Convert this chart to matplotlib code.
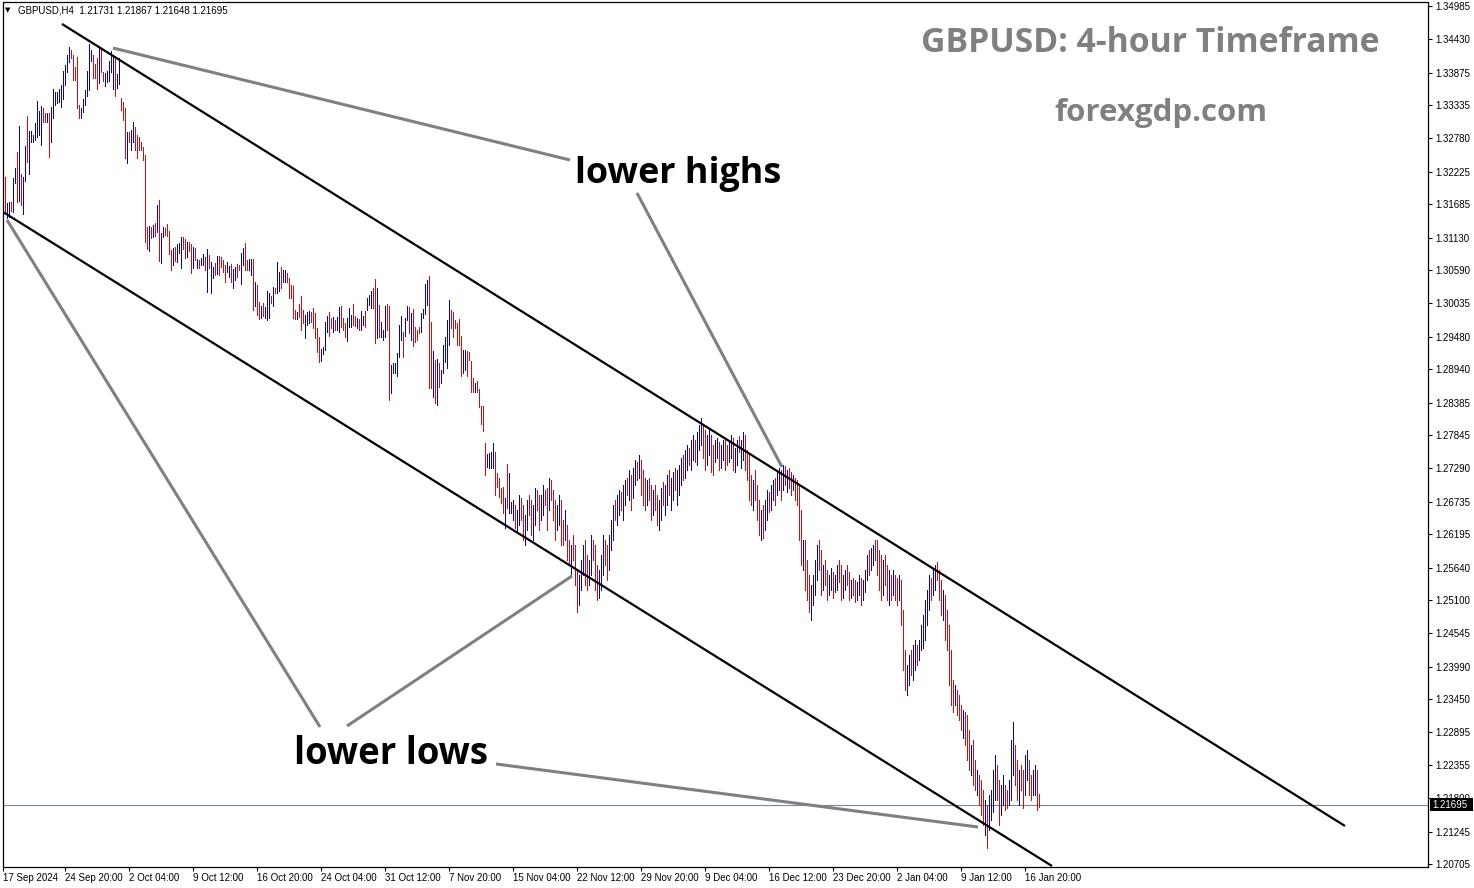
import matplotlib
matplotlib.use("Agg")
import matplotlib.pyplot as plt
import matplotlib.transforms as mtransforms
from matplotlib.patches import Rectangle

# ---------------- data ----------------
symbol_header = "GBPUSD,H4  1.21731 1.21867 1.21648 1.21695"
title_text = "GBPUSD: 4-hour Timeframe"
site_text = "forexgdp.com"
label_highs = "lower highs"
label_lows = "lower lows"
current_price = 1.21695

high = [
    1.32289, 1.32139, 1.31706, 1.31723, 1.31723, 1.32123, 1.32289, 1.32555, 1.32988, 1.32189,
    1.32139, 1.32655, 1.33154, 1.32905, 1.32905, 1.32838, 1.33038, 1.33404, 1.33238, 1.33321,
    1.33288, 1.33204, 1.33204, 1.33204, 1.33304, 1.33604, 1.33554, 1.33554, 1.33604, 1.33670,
    1.33903, 1.34003, 1.34170, 1.34303, 1.34253, 1.34170, 1.33970, 1.34136, 1.33338, 1.33288,
    1.33437, 1.33587, 1.33903, 1.34353, 1.34253, 1.34170, 1.34020, 1.34120, 1.34286, 1.34286,
    1.33887, 1.33870, 1.33903, 1.34070, 1.34236, 1.34136, 1.34136, 1.33853, 1.34120, 1.33454,
    1.33387, 1.33288, 1.32888, 1.32888, 1.32921, 1.33055, 1.32971, 1.32838, 1.32805, 1.32722,
    1.32639, 1.32505, 1.31307, 1.31324, 1.31307, 1.31340, 1.31374, 1.31673, 1.31756, 1.31207,
    1.31307, 1.31290, 1.31357, 1.31241, 1.30924, 1.30958, 1.30974, 1.31024, 1.31041, 1.31141,
    1.31141, 1.31107, 1.31057, 1.31057, 1.31024, 1.30974, 1.30958, 1.30774, 1.30758, 1.30791,
    1.30858, 1.30808, 1.30941, 1.30841, 1.30725, 1.30641, 1.30708, 1.30824, 1.30824, 1.30808,
    1.30758, 1.30675, 1.30725, 1.30658, 1.30691, 1.30608, 1.30641, 1.30691, 1.30675, 1.30874,
    1.30958, 1.31041, 1.30758, 1.30774, 1.30774, 1.30774, 1.30392, 1.30342, 1.30059, 1.29992,
    1.30042, 1.29976, 1.30242, 1.30209, 1.30159, 1.30309, 1.30292, 1.30725, 1.30558, 1.30641,
    1.30591, 1.30591, 1.30541, 1.30458, 1.30342, 1.30325, 1.29926, 1.29892, 1.30026, 1.30159,
    1.29926, 1.29843, 1.29892, 1.29909, 1.29892, 1.29959, 1.29876, 1.29626, 1.29476, 1.29277,
    1.29310, 1.29726, 1.29826, 1.29892, 1.29793, 1.29809, 1.29759, 1.29809, 1.29976, 1.29992,
    1.29793, 1.29709, 1.29793, 1.29959, 1.29843, 1.30026, 1.29826, 1.29793, 1.29776, 1.29909,
    1.29826, 1.29909, 1.30125, 1.30175, 1.30242, 1.30292, 1.30442, 1.30292, 1.30009, 1.29726,
    1.29593, 1.29992, 1.30026, 1.29992, 1.29010, 1.29044, 1.29044, 1.29210, 1.29676, 1.29826,
    1.29560, 1.29793, 1.29992, 1.29976, 1.29876, 1.29942, 1.29643, 1.29593, 1.29643, 1.29876,
    1.29942, 1.30358, 1.30425, 1.30492, 1.29726, 1.29243, 1.29094, 1.29110, 1.29044, 1.28927,
    1.29343, 1.29476, 1.29759, 1.30092, 1.29926, 1.29892, 1.29759, 1.29709, 1.29776, 1.29493,
    1.29260, 1.29260, 1.29243, 1.29227, 1.29077, 1.28794, 1.28711, 1.28744, 1.28611, 1.28328,
    1.28328, 1.27712, 1.27529, 1.27546, 1.27562, 1.27712, 1.27562, 1.27213, 1.27130, 1.26963,
    1.26980, 1.26797, 1.27363, 1.27213, 1.26730, 1.26764, 1.26681, 1.26597, 1.26847, 1.26797,
    1.26681, 1.26514, 1.26764, 1.26847, 1.26764, 1.26681, 1.26963, 1.26930, 1.26847, 1.26847,
    1.27013, 1.26930, 1.26963, 1.27130, 1.27097, 1.26930, 1.26764, 1.26681, 1.26847, 1.26764,
    1.26431, 1.26597, 1.26348, 1.26098, 1.26015, 1.26181, 1.26015, 1.25599, 1.25516, 1.25765,
    1.26015, 1.26098, 1.25848, 1.25765, 1.26181, 1.26098, 1.26015, 1.25682, 1.25599, 1.25848,
    1.26181, 1.26098, 1.26015, 1.26181, 1.26431, 1.26681, 1.26764, 1.26847, 1.26930, 1.26897,
    1.27013, 1.27097, 1.27130, 1.27263, 1.27180, 1.27296, 1.27429, 1.27396, 1.27513, 1.27429,
    1.27263, 1.27130, 1.27097, 1.27130, 1.27013, 1.26930, 1.27013, 1.26847, 1.26764, 1.26963,
    1.27063, 1.27013, 1.27180, 1.27263, 1.27130, 1.27230, 1.27296, 1.27263, 1.27346, 1.27463,
    1.27513, 1.27596, 1.27679, 1.27629, 1.27762, 1.27846, 1.27762, 1.27895, 1.28012, 1.28128,
    1.28012, 1.27929, 1.27846, 1.27962, 1.27846, 1.27679, 1.27762, 1.27796, 1.27729, 1.27679,
    1.27762, 1.27796, 1.27679, 1.27762, 1.27846, 1.27796, 1.27629, 1.27762, 1.27829, 1.27762,
    1.27895, 1.27846, 1.27596, 1.27513, 1.27180, 1.27097, 1.27263, 1.27013, 1.26764, 1.26597,
    1.26681, 1.26764, 1.26930, 1.26897, 1.27013, 1.27097, 1.27130, 1.27263, 1.27296, 1.27263,
    1.27346, 1.27330, 1.27263, 1.27296, 1.27230, 1.27180, 1.27130, 1.27097, 1.27013, 1.26597,
    1.26098, 1.26098, 1.25765, 1.25516, 1.25349, 1.25516, 1.25765, 1.26015, 1.26098, 1.25932,
    1.25682, 1.25765, 1.25599, 1.25516, 1.25632, 1.25565, 1.25516, 1.25682, 1.25765, 1.25682,
    1.25516, 1.25599, 1.25682, 1.25565, 1.25432, 1.25466, 1.25432, 1.25399, 1.25516, 1.25466,
    1.25432, 1.25599, 1.25848, 1.25932, 1.25965, 1.26015, 1.26098, 1.26098, 1.25932, 1.25848,
    1.25765, 1.25848, 1.25682, 1.25599, 1.25516, 1.25599, 1.25516, 1.25466, 1.25516, 1.25432,
    1.24933, 1.24267, 1.24018, 1.24184, 1.24267, 1.24350, 1.24434, 1.24350, 1.24434, 1.24683,
    1.24850, 1.25099, 1.25266, 1.25516, 1.25466, 1.25599, 1.25682, 1.25732, 1.25599, 1.25432,
    1.25266, 1.25183, 1.24933, 1.24683, 1.24267, 1.23768, 1.23685, 1.23602, 1.23518, 1.23352,
    1.23269, 1.23235, 1.23186, 1.22936, 1.22686, 1.22769, 1.22437, 1.22270, 1.22187, 1.22104,
    1.21937, 1.21771, 1.21688, 1.21854, 1.21937, 1.22270, 1.22520, 1.22353, 1.22104, 1.22020,
    1.22187, 1.22020, 1.21937, 1.22104, 1.22769, 1.23069, 1.22686, 1.22437, 1.22270, 1.22353,
    1.22270, 1.22520, 1.22603, 1.22437, 1.22187, 1.22270, 1.22353, 1.22270, 1.21867,
]

low = [
    1.31989, 1.31540, 1.31457, 1.31474, 1.31573, 1.31557, 1.32039, 1.31723, 1.31740, 1.31673,
    1.31523, 1.32073, 1.32389, 1.32189, 1.32722, 1.32722, 1.32755, 1.32805, 1.32838, 1.32672,
    1.33055, 1.33055, 1.33055, 1.32472, 1.32722, 1.33121, 1.33338, 1.33371, 1.33387, 1.33304,
    1.33437, 1.33670, 1.33887, 1.34053, 1.34120, 1.33754, 1.33754, 1.33288, 1.33121, 1.33121,
    1.33221, 1.33338, 1.33487, 1.33587, 1.34070, 1.33787, 1.33787, 1.33604, 1.33704, 1.33887,
    1.33737, 1.33654, 1.33720, 1.33737, 1.33887, 1.33604, 1.33487, 1.33620, 1.33687, 1.33254,
    1.33088, 1.32455, 1.32372, 1.32722, 1.32589, 1.32722, 1.32589, 1.32455, 1.32589, 1.32589,
    1.32422, 1.31057, 1.30941, 1.30908, 1.31124, 1.31141, 1.31157, 1.31224, 1.30741, 1.30708,
    1.31141, 1.31174, 1.31157, 1.30858, 1.30591, 1.30675, 1.30741, 1.30725, 1.30874, 1.30625,
    1.30941, 1.30791, 1.30808, 1.30908, 1.30541, 1.30625, 1.30758, 1.30625, 1.30625, 1.30675,
    1.30675, 1.30591, 1.30225, 1.30625, 1.30209, 1.30458, 1.30508, 1.30525, 1.30508, 1.30641,
    1.30558, 1.30392, 1.30558, 1.30475, 1.30392, 1.30292, 1.30425, 1.30475, 1.30591, 1.30358,
    1.30675, 1.30591, 1.30591, 1.30591, 1.30508, 1.29926, 1.29992, 1.29843, 1.29776, 1.29793,
    1.29826, 1.29793, 1.29759, 1.29793, 1.30042, 1.29992, 1.30209, 1.30209, 1.30242, 1.30292,
    1.30392, 1.30392, 1.30392, 1.30125, 1.30125, 1.29793, 1.29776, 1.29776, 1.29809, 1.29593,
    1.29709, 1.29460, 1.29676, 1.29709, 1.29726, 1.29626, 1.29460, 1.29227, 1.29060, 1.29077,
    1.29193, 1.29260, 1.29560, 1.29493, 1.29626, 1.29560, 1.29593, 1.29593, 1.29560, 1.29643,
    1.29593, 1.29476, 1.29410, 1.29643, 1.29643, 1.29676, 1.29659, 1.29626, 1.29593, 1.29593,
    1.29676, 1.29643, 1.29926, 1.30009, 1.29959, 1.29959, 1.29376, 1.29460, 1.29476, 1.29476,
    1.29426, 1.29476, 1.29593, 1.28428, 1.28544, 1.28877, 1.28877, 1.28827, 1.29143, 1.29426,
    1.29143, 1.29493, 1.29759, 1.29543, 1.29426, 1.29326, 1.29393, 1.29426, 1.29543, 1.29560,
    1.29793, 1.29859, 1.30009, 1.28627, 1.28627, 1.28478, 1.28378, 1.28345, 1.28644, 1.28711,
    1.28877, 1.29060, 1.28960, 1.29343, 1.29626, 1.29476, 1.29626, 1.29343, 1.29343, 1.28827,
    1.28877, 1.28927, 1.28827, 1.29094, 1.28561, 1.28561, 1.28561, 1.28561, 1.28311, 1.28028,
    1.27912, 1.27180, 1.27313, 1.27296, 1.27296, 1.27296, 1.26847, 1.26980, 1.26813, 1.26714,
    1.26547, 1.26298, 1.26630, 1.26547, 1.26547, 1.26431, 1.26298, 1.26231, 1.26348, 1.26431,
    1.26098, 1.26015, 1.26264, 1.26514, 1.26181, 1.26098, 1.26348, 1.26597, 1.26264, 1.26431,
    1.26514, 1.26681, 1.26264, 1.26597, 1.26764, 1.26431, 1.26098, 1.26264, 1.26348, 1.26015,
    1.26015, 1.26098, 1.25765, 1.25682, 1.25516, 1.25765, 1.25349, 1.24900, 1.25016, 1.25266,
    1.25516, 1.25349, 1.25266, 1.25349, 1.25516, 1.25765, 1.25266, 1.25099, 1.25133, 1.25266,
    1.25516, 1.25682, 1.25432, 1.25599, 1.25932, 1.26098, 1.26431, 1.26348, 1.26514, 1.26597,
    1.26431, 1.26681, 1.26847, 1.26764, 1.26597, 1.26797, 1.27013, 1.27097, 1.27130, 1.26847,
    1.26681, 1.26597, 1.26681, 1.26764, 1.26431, 1.26514, 1.26597, 1.26348, 1.26264, 1.26431,
    1.26681, 1.26514, 1.26681, 1.26847, 1.26597, 1.26764, 1.26930, 1.26681, 1.26847, 1.27013,
    1.27097, 1.27130, 1.27263, 1.27346, 1.27263, 1.27429, 1.27396, 1.27346, 1.27596, 1.27679,
    1.27463, 1.27263, 1.27346, 1.27513, 1.27230, 1.27180, 1.27396, 1.27463, 1.27263, 1.27296,
    1.27429, 1.27263, 1.27346, 1.27396, 1.27463, 1.27263, 1.27230, 1.27346, 1.27563, 1.27296,
    1.27429, 1.27263, 1.27097, 1.26764, 1.26681, 1.26597, 1.26764, 1.26431, 1.26181, 1.26098,
    1.26131, 1.26264, 1.26431, 1.26564, 1.26597, 1.26764, 1.26681, 1.26847, 1.26930, 1.26764,
    1.26930, 1.27013, 1.26897, 1.26963, 1.26847, 1.26930, 1.26764, 1.26681, 1.26098, 1.25682,
    1.25599, 1.25266, 1.25099, 1.24900, 1.24767, 1.25016, 1.25183, 1.25432, 1.25599, 1.25183,
    1.25266, 1.25349, 1.25099, 1.25183, 1.25266, 1.25133, 1.25233, 1.25266, 1.25399, 1.25099,
    1.25133, 1.25266, 1.25349, 1.25099, 1.25133, 1.25183, 1.25066, 1.25099, 1.25183, 1.25016,
    1.25099, 1.25233, 1.25432, 1.25516, 1.25599, 1.25682, 1.25765, 1.25516, 1.25266, 1.25099,
    1.25183, 1.25349, 1.25099, 1.25016, 1.25099, 1.25183, 1.25099, 1.25016, 1.25099, 1.24683,
    1.23934, 1.23602, 1.23518, 1.23685, 1.23851, 1.23768, 1.23934, 1.24018, 1.24101, 1.24267,
    1.24301, 1.24434, 1.24683, 1.24933, 1.25099, 1.25183, 1.25266, 1.25432, 1.25099, 1.24850,
    1.24767, 1.24434, 1.24267, 1.23685, 1.23352, 1.23235, 1.23352, 1.23186, 1.23102, 1.22936,
    1.22803, 1.22686, 1.22437, 1.22270, 1.22187, 1.22020, 1.21937, 1.21854, 1.21688, 1.21521,
    1.21355, 1.21188, 1.20972, 1.21271, 1.21438, 1.21571, 1.21771, 1.21771, 1.21355, 1.21521,
    1.21688, 1.21604, 1.21638, 1.21688, 1.21771, 1.22187, 1.22020, 1.21771, 1.21688, 1.21937,
    1.21638, 1.21854, 1.22104, 1.21854, 1.21771, 1.21854, 1.21854, 1.21604, 1.21648,
]

# b = bullish bar (blue), r = bearish bar (red)
direction = (
    "rrbbrbbrbr" "bbrbbbbbbb" "rrbrbbbbbb" "bbbbrrrrrb" "bbbbbrrrbr"
    "rbbbbbrbbr" "rrbrbbrrrr" "rrrbrbrbrb" "brrrrbrbbb" "rrbrrbrbrb"
    "brbrbbrbrr" "rrbbrbbrrb" "brrbbrbrrb" "rbbbrbrbbr" "bbrrrrrbrr"
    "rbbbrrrrrb" "bbbrrbrbbr" "rrbbbrrbrb" "brbbbrrbrb" "bbrrbbbbbb"
    "rbbrbrrrrb" "bbbrrbrbrb" "bbbbrrrrrr" "bbrrrrbrrr" "rrbbbbrrrr"
    "rbrbb"
    "brbbrrbbrr" "bbrrbbrrbr" "rrbbrrbrrb" "rrrbbbrrbb" "rrrbbbrrbb"
    "brbbrbbrbr" "bbrbrrrbrr" "brrbbrbbrb" "brbbbrbbrb" "brbbbrrbbr"
    "rbbrbbrrbb" "rbbrbbrrrr" "brrrbrbbrb" "brbbrbrbrr" "brrrrbrrrb"
    "bbbrrbrrbb" "rbbrrbbrrb" "rrbbrbbbrb" "brrrrbrrbr" "brrbrrrbbr"
    "bbrbbbbbbr" "bbrrrbrrrr" "rbrrrbrrrb" "rrbrrrbrbb" "bbrrbbrrbb"
    "brrbrrbbrr" "bbrr"
)

date_tick_bars = [0, 31, 63, 95, 127, 159, 191, 223, 255, 287, 319, 351, 383, 415, 447, 479, 511]
date_labels = ["17 Sep 2024", "24 Sep 20:00", "2 Oct 04:00", "9 Oct 12:00", "16 Oct 20:00",
               "24 Oct 04:00", "31 Oct 12:00", "7 Nov 20:00", "15 Nov 04:00", "22 Nov 12:00",
               "29 Nov 20:00", "9 Dec 04:00", "16 Dec 12:00", "23 Dec 20:00", "2 Jan 04:00",
               "9 Jan 12:00", "16 Jan 20:00"]
price_ticks = [1.34985, 1.34430, 1.33875, 1.33335, 1.32780, 1.32225, 1.31685, 1.31130, 1.30590,
               1.30035, 1.29480, 1.28940, 1.28385, 1.27845, 1.27290, 1.26735, 1.26195, 1.25640,
               1.25100, 1.24545, 1.23990, 1.23450, 1.22895, 1.22355, 1.21800, 1.21245, 1.20705]

# channel trendlines (bar index, price)
upper_channel = [(29.5, 1.34686), (671.0, 1.21338)]
lower_channel = [(0.0, 1.31557), (524.5, 1.20672)]
# grey pointer lines from the annotations
pointer_lines = [
    [(55.0, 1.34286), (283.5, 1.32422)],
    [(317.0, 1.31873), (389.5, 1.27313)],
    [(2.0, 1.31424), (158.5, 1.22986)],
    [(172.0, 1.23002), (284.5, 1.25499)],
    [(246.5, 1.22370), (487.5, 1.21321)],
]

# ---------------- figure ----------------
W, H = 1474, 888
fig = plt.figure(figsize=(W / 100, H / 100), dpi=100)
fig.patch.set_facecolor("white")

ax_left, ax_right, ax_top, ax_bottom = 2.5, 1428.0, 2.5, 867.0
ax = fig.add_axes([ax_left / W, 1 - ax_bottom / H, (ax_right - ax_left) / W, (ax_bottom - ax_top) / H])
ax.set_facecolor("white")

n = min(len(high), len(low), len(direction))
xs = list(range(n))
colors = ["#0000e0" if d == "b" else "#f00000" for d in direction[:n]]
ax.vlines(xs, low[:n], high[:n], colors=colors, linewidth=0.6, antialiased=False, zorder=2)

ymin, ymax = 1.206555, 1.350434
ax.set_xlim(-0.25, 712.5)
ax.set_ylim(ymin, ymax)

# current price line
ax.axhline(current_price, color="#778899", linewidth=0.8, zorder=1)

# channel lines
for seg in (upper_channel, lower_channel):
    ax.plot([p[0] for p in seg], [p[1] for p in seg], color="black", linewidth=1.6,
            solid_capstyle="butt", zorder=3)
for seg in pointer_lines:
    ax.plot([p[0] for p in seg], [p[1] for p in seg], color="#808080", linewidth=2.2,
            solid_capstyle="butt", zorder=3)

# axes styling
for s in ax.spines.values():
    s.set_color("black")
    s.set_linewidth(0.9)
ax.yaxis.tick_right()
ax.set_yticks(price_ticks)
ax.set_yticklabels([f"{v:.5f}" for v in price_ticks])
ax.set_xticks(date_tick_bars)
ax.set_xticklabels(date_labels, ha="left")
ax.tick_params(axis="y", direction="out", length=3, width=0.8, pad=2, labelsize=7,
               labelfontfamily="Liberation Sans")
ax.tick_params(axis="x", direction="out", length=3, width=0.8, pad=1, labelsize=7,
               labelfontfamily="Liberation Sans")

# current price box on the right axis
blend = mtransforms.blended_transform_factory(fig.transFigure, ax.transData)
box_h_price = 13 * (ymax - ymin) / (ax_bottom - ax_top)
rect = Rectangle((1430 / W, current_price - box_h_price / 2), 43 / W, box_h_price,
                 transform=blend, facecolor="black", edgecolor="none", clip_on=False, zorder=10)
fig.add_artist(rect)
fig.text(1432 / W, current_price, f"{current_price:.5f}", transform=blend, color="white",
         fontsize=7, family="Liberation Sans", va="center", ha="left", zorder=11)

# header text
fig.text(5 / W, 1 - 10 / H, "\u25BC", fontsize=5, color="black", va="center", ha="left",
         family="DejaVu Sans")
fig.text(18 / W, 1 - 10.5 / H, symbol_header, fontsize=7, color="black", va="center", ha="left",
         family="Liberation Sans")

# watermark-like titles
fig.text(1150 / W, 1 - 43 / H, title_text, fontsize=24.3, fontweight="bold", color="#808080",
         family="Open Sans", ha="center", va="center")
fig.text(1161 / W, 1 - 113 / H, site_text, fontsize=22.5, fontweight="bold", color="#808080",
         family="Open Sans", ha="center", va="center")

# annotations
fig.text(575 / W, 1 - 174 / H, label_highs, fontsize=25.8, fontweight="bold", color="black",
         family="Open Sans", ha="left", va="center")
fig.text(294 / W, 1 - 754 / H, label_lows, fontsize=26.3, fontweight="bold", color="black",
         family="Open Sans", ha="left", va="center")

fig.savefig("out.png", dpi=100, facecolor="white")
